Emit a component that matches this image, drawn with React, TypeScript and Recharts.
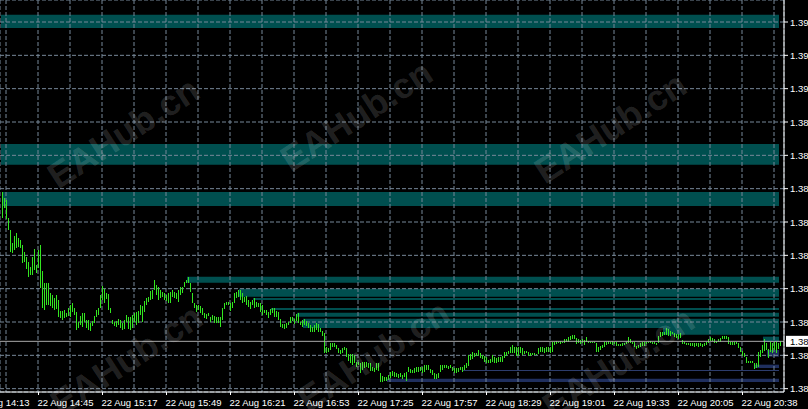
import React from "react";
import { ComposedChart, Bar, XAxis, YAxis, CartesianGrid, ReferenceArea, ReferenceLine } from "recharts";

// M1 bars, 22 Aug 14:27 onwards (high / low)
const highs = [
  1.38845, 1.38836, 1.38833, 1.38806, 1.38788, 1.38769, 1.38779, 1.38784, 1.38776, 1.38773,
  1.38766, 1.38755, 1.38748, 1.3874, 1.38733, 1.38748, 1.3876, 1.38736, 1.38758, 1.38766,
  1.38727, 1.38709, 1.38709, 1.38709, 1.38694, 1.38691, 1.38686, 1.38691, 1.38683, 1.38667,
  1.38667, 1.38668, 1.38664, 1.38671, 1.38676, 1.38679, 1.38671, 1.38665, 1.3865, 1.38659,
  1.38664, 1.38664, 1.38653, 1.38653, 1.38649, 1.38652, 1.38659, 1.38668, 1.38671, 1.38691,
  1.38704, 1.387, 1.38694, 1.38692, 1.38671, 1.38653, 1.3865, 1.38652, 1.38655, 1.38653,
  1.38649, 1.38653, 1.38661, 1.38658, 1.38658, 1.38661, 1.38664, 1.38665, 1.38667, 1.38676,
  1.38674, 1.38682, 1.38686, 1.38688, 1.38697, 1.38698, 1.38713, 1.38706, 1.38703, 1.38698,
  1.38695, 1.38694, 1.38691, 1.38694, 1.38695, 1.38698, 1.38695, 1.38694, 1.38698, 1.38703,
  1.38703, 1.3871, 1.38713, 1.38718, 1.38709, 1.38694, 1.38679, 1.38676, 1.38676, 1.38674,
  1.38671, 1.38664, 1.38662, 1.38664, 1.38658, 1.38661, 1.38659, 1.38658, 1.38658, 1.38658,
  1.38671, 1.38679, 1.3868, 1.3868, 1.38679, 1.3868, 1.38694, 1.38695, 1.38698, 1.38698,
  1.38694, 1.38688, 1.38689, 1.38683, 1.3868, 1.38683, 1.38686, 1.3868, 1.38679, 1.38679,
  1.38676, 1.38668, 1.38668, 1.38665, 1.3867, 1.38671, 1.38671, 1.38667, 1.38665, 1.38655,
  1.38647, 1.38647, 1.38649, 1.3865, 1.38658, 1.38658, 1.38655, 1.38662, 1.38664, 1.3865,
  1.38653, 1.38655, 1.38652, 1.38649, 1.38646, 1.38643, 1.38646, 1.38649, 1.38647, 1.38641,
  1.38637, 1.38634, 1.38613, 1.38611, 1.38619, 1.38619, 1.38619, 1.38616, 1.38611, 1.38608,
  1.38611, 1.38613, 1.38611, 1.38602, 1.38602, 1.38602, 1.38601, 1.3859, 1.3859, 1.38589,
  1.3859, 1.3859, 1.3859, 1.38589, 1.38589, 1.38583, 1.38581, 1.38589, 1.38589, 1.38574,
  1.38569, 1.38568, 1.38568, 1.38571, 1.38575, 1.38577, 1.38575, 1.38574, 1.38572, 1.38574,
  1.38571, 1.38574, 1.38575, 1.38583, 1.3858, 1.38578, 1.38581, 1.38583, 1.38583, 1.38583,
  1.38583, 1.38586, 1.38586, 1.38586, 1.3858, 1.38578, 1.38574, 1.38572, 1.38574, 1.38586,
  1.38586, 1.38586, 1.38586, 1.38584, 1.38586, 1.38583, 1.38581, 1.38581, 1.38581, 1.38583,
  1.38583, 1.38586, 1.38589, 1.38601, 1.38602, 1.38605, 1.38604, 1.38604, 1.38608, 1.38604,
  1.38601, 1.38599, 1.38598, 1.38593, 1.38595, 1.38601, 1.38598, 1.38596, 1.38598, 1.38598,
  1.38599, 1.38605, 1.38605, 1.38607, 1.38613, 1.38616, 1.38613, 1.38613, 1.38613, 1.38613,
  1.38611, 1.38607, 1.38607, 1.38605, 1.38604, 1.38604, 1.38604, 1.38602, 1.38611, 1.38613,
  1.38613, 1.38611, 1.38613, 1.38613, 1.38613, 1.3862, 1.3862, 1.38622, 1.3862, 1.38622,
  1.3862, 1.38625, 1.38625, 1.38628, 1.38629, 1.38631, 1.38631, 1.38626, 1.38625, 1.38623,
  1.38625, 1.38623, 1.38628, 1.38622, 1.3862, 1.3862, 1.3862, 1.38619, 1.38613, 1.38614,
  1.38616, 1.3862, 1.3862, 1.38622, 1.3862, 1.38622, 1.3862, 1.3862, 1.38617, 1.38617,
  1.38619, 1.38619, 1.3862, 1.38628, 1.38625, 1.3862, 1.3862, 1.38614, 1.38616, 1.38619,
  1.3862, 1.3862, 1.3862, 1.3862, 1.38622, 1.3862, 1.3862, 1.38619, 1.38629, 1.38635,
  1.38635, 1.38635, 1.38641, 1.3864, 1.38637, 1.38635, 1.38634, 1.38632, 1.38632, 1.38634,
  1.38623, 1.3862, 1.38619, 1.38619, 1.38619, 1.38619, 1.38619, 1.38619, 1.38619, 1.38619,
  1.38617, 1.38619, 1.3862, 1.38625, 1.38628, 1.38626, 1.38625, 1.38622, 1.38625, 1.38626,
  1.38629, 1.38629, 1.38629, 1.38628, 1.3862, 1.3862, 1.3862, 1.3862, 1.38619, 1.38613,
  1.38607, 1.38604, 1.38598, 1.38592, 1.38592, 1.38592, 1.38589, 1.38589, 1.38605, 1.38608,
  1.38616, 1.38625, 1.38619, 1.3861, 1.3862, 1.38619, 1.3862, 1.3862, 1.38619, 1.38622,
];
const lows = [
  1.38806, 1.38821, 1.38805, 1.38788, 1.38755, 1.38754, 1.38758, 1.38761, 1.38763, 1.38761,
  1.38739, 1.3874, 1.3873, 1.38718, 1.38721, 1.38721, 1.38728, 1.38724, 1.38731, 1.38701,
  1.38671, 1.38668, 1.38676, 1.38676, 1.38674, 1.38671, 1.38668, 1.3867, 1.38658, 1.38656,
  1.38653, 1.38656, 1.38658, 1.38659, 1.38658, 1.38665, 1.38661, 1.38638, 1.38641, 1.38646,
  1.38643, 1.3865, 1.38641, 1.38638, 1.38637, 1.38644, 1.38649, 1.38658, 1.38661, 1.38671,
  1.38683, 1.38679, 1.38685, 1.38668, 1.38664, 1.38647, 1.38644, 1.38643, 1.38646, 1.38641,
  1.38638, 1.3864, 1.3865, 1.3864, 1.38638, 1.38641, 1.3865, 1.38646, 1.38649, 1.38661,
  1.3865, 1.38665, 1.38676, 1.3868, 1.38683, 1.38685, 1.38698, 1.38691, 1.38683, 1.38686,
  1.38688, 1.38683, 1.38682, 1.38679, 1.38679, 1.38688, 1.38686, 1.38685, 1.3868, 1.38691,
  1.38694, 1.38703, 1.38709, 1.38709, 1.38695, 1.38679, 1.38671, 1.38665, 1.38668, 1.38664,
  1.38661, 1.38656, 1.38655, 1.38659, 1.3865, 1.38653, 1.38649, 1.38649, 1.38649, 1.38643,
  1.38653, 1.3867, 1.38676, 1.38676, 1.38667, 1.38671, 1.38679, 1.38686, 1.38688, 1.38683,
  1.38679, 1.3868, 1.38676, 1.38673, 1.3867, 1.38676, 1.38671, 1.38673, 1.38673, 1.38665,
  1.38661, 1.38664, 1.38661, 1.38656, 1.38661, 1.38664, 1.38658, 1.38658, 1.38653, 1.38643,
  1.38641, 1.3864, 1.38641, 1.38646, 1.38649, 1.38652, 1.38647, 1.38652, 1.38649, 1.38646,
  1.38643, 1.38646, 1.38644, 1.38641, 1.38635, 1.38635, 1.38635, 1.38638, 1.38635, 1.38635,
  1.38629, 1.38604, 1.38604, 1.38605, 1.38608, 1.38613, 1.38613, 1.3861, 1.38604, 1.38602,
  1.38604, 1.38608, 1.38598, 1.38592, 1.38589, 1.38586, 1.38589, 1.38583, 1.38586, 1.38574,
  1.38578, 1.38581, 1.38583, 1.38581, 1.38577, 1.38577, 1.38575, 1.38578, 1.38577, 1.3856,
  1.3856, 1.38562, 1.38562, 1.38563, 1.38566, 1.38569, 1.38568, 1.38568, 1.38566, 1.38568,
  1.38565, 1.38568, 1.38562, 1.38575, 1.38574, 1.38574, 1.38574, 1.38575, 1.38575, 1.38577,
  1.38574, 1.38575, 1.38578, 1.38578, 1.38574, 1.38571, 1.38565, 1.38565, 1.38566, 1.38575,
  1.38578, 1.38581, 1.38581, 1.3858, 1.38581, 1.38577, 1.38574, 1.38574, 1.38575, 1.38578,
  1.38575, 1.38578, 1.38581, 1.38584, 1.38593, 1.38595, 1.38598, 1.38599, 1.38599, 1.38596,
  1.38595, 1.3859, 1.38589, 1.38589, 1.38589, 1.3859, 1.38589, 1.38589, 1.3859, 1.3859,
  1.3859, 1.38596, 1.38599, 1.38602, 1.38604, 1.38604, 1.38604, 1.38599, 1.38599, 1.38604,
  1.38601, 1.38602, 1.38604, 1.38599, 1.38599, 1.38601, 1.38601, 1.38601, 1.38602, 1.38605,
  1.38605, 1.38604, 1.38605, 1.38605, 1.38604, 1.38605, 1.38616, 1.38617, 1.38619, 1.38617,
  1.38619, 1.38619, 1.3862, 1.3862, 1.38623, 1.38625, 1.38625, 1.38617, 1.38619, 1.38617,
  1.38619, 1.38616, 1.3862, 1.38619, 1.38619, 1.38619, 1.38619, 1.38605, 1.38605, 1.38608,
  1.38611, 1.38613, 1.38616, 1.38617, 1.38617, 1.38616, 1.38617, 1.38614, 1.38614, 1.38614,
  1.38614, 1.38616, 1.38617, 1.38619, 1.38619, 1.38617, 1.38613, 1.3861, 1.38611, 1.38613,
  1.38614, 1.38614, 1.38617, 1.38619, 1.38619, 1.38617, 1.38617, 1.38616, 1.38619, 1.38628,
  1.38629, 1.38631, 1.38631, 1.38629, 1.38629, 1.38632, 1.38628, 1.38626, 1.38625, 1.38626,
  1.38617, 1.38617, 1.38616, 1.38616, 1.38614, 1.38614, 1.38613, 1.38614, 1.38613, 1.38614,
  1.38613, 1.38614, 1.38616, 1.38619, 1.38622, 1.38622, 1.38619, 1.38619, 1.3862, 1.3862,
  1.38625, 1.38625, 1.38625, 1.38617, 1.38616, 1.38616, 1.38616, 1.38617, 1.38611, 1.38605,
  1.38599, 1.38598, 1.38589, 1.38589, 1.38589, 1.38589, 1.3858, 1.38581, 1.38583, 1.38598,
  1.38604, 1.38607, 1.38608, 1.38596, 1.38605, 1.38604, 1.38608, 1.38604, 1.3861, 1.38614,
];

const priceTicks = [1.391, 1.3905, 1.39, 1.3895, 1.389, 1.3885, 1.388, 1.3875, 1.387, 1.3865, 1.386, 1.3855];
const gridBars = [2, 18, 34, 50, 66, 82, 98, 114, 130, 146, 162, 178, 194, 210, 226, 242, 258, 274, 290, 306, 322, 338, 354, 370, 386];
const labelBars = [18, 50, 82, 114, 146, 178, 210, 242, 274, 306, 338, 370];
const timeLabels = [
  "22 Aug 14:13", "22 Aug 14:45", "22 Aug 15:17", "22 Aug 15:49", "22 Aug 16:21", "22 Aug 16:53", "22 Aug 17:25",
  "22 Aug 17:57", "22 Aug 18:29", "22 Aug 19:01", "22 Aug 19:33", "22 Aug 20:05", "22 Aug 20:38",
];
const lastPrice = 1.38621;

// drawn zones: first bar, low, high, kind
const zoneStart = [null, null, 1, 93, 119, 126, 135, 148, 151, 331, 381, 231, 193, 377, 383];
const zoneLow = [1.39091, 1.38886, 1.38824, 1.38709, 1.38688, 1.38683, 1.38668, 1.38658, 1.38641, 1.38631, 1.3862, 1.385765, 1.3856, 1.38581, 1.38598];
const zoneHigh = [1.39111, 1.38917, 1.38845, 1.38718, 1.387, 1.38686, 1.38671, 1.38664, 1.38655, 1.38643, 1.38628, 1.38578, 1.38565, 1.38586, 1.38608];
const zoneKind = ["s", "s", "s", "s", "s", "s", "s", "s", "s", "s", "s", "line", "d", "d", "d"];
const zoneColor: Record<string, string> = { s: "#004f4f", d: "#1f2f5e", line: "#2c3c6c" };

const data = highs.map((h, i) => ({ i, range: [lows[i], h] }));

const font = "'Liberation Sans', Arial, sans-serif";
const barColor = "#33e620";

const Stick = (p: any) => (
  <rect x={Math.round(p.x + p.width / 2 - 0.5)} y={Math.round(p.y)} width={1} height={Math.max(1, Math.round(Math.abs(p.height)))} fill={barColor} />
);

const PriceTick = ({ x, y, payload }: any) => (
  <text x={x} y={y} dy={3.5} fill="#fff" fontSize={9.5} fontFamily={font}>
    {Number(payload.value).toFixed(5)}
  </text>
);

const TimeTick = ({ x, y, payload }: any) => {
  const k = labelBars.indexOf(payload.value);
  if (k < 0) return null;
  const tx = Math.floor(x) + 0.5;
  return (
    <g>
      <line x1={tx} x2={tx} y1={y - 3} y2={y} stroke="#fff" />
      <text x={tx - 1} y={y + 11} fill="#fff" fontSize={9.5} fontFamily={font}>{timeLabels[k + 1]}</text>
      {k === 0 && (
        <text x={tx - 65} y={y + 11} fill="#fff" fontSize={9.5} fontFamily={font}>{timeLabels[0]}</text>
      )}
    </g>
  );
};

const PriceBox = ({ viewBox }: any) => (
  <g>
    <rect x={viewBox.x + viewBox.width + 2} y={viewBox.y - 5.5} width={30} height={11} fill="#fff" />
    <text x={viewBox.x + viewBox.width + 6} y={viewBox.y + 3.5} fill="#000" fontSize={9.5} fontFamily={font}>
      {lastPrice.toFixed(5)}
    </text>
  </g>
);

const stamps = [
  [125, 135], [358, 118], [612, 130], [128, 362], [375, 358], [620, 365],
];

export default function App() {
  const areaProps: any = { zIndex: -150 };
  return (
    <div style={{ position: "fixed", left: 0, top: 0, width: 808, height: 409, background: "#000", overflow: "hidden" }}>
      <ComposedChart width={808} height={409} data={data} margin={{ top: 0, right: 0, bottom: 0, left: 0 }}>
        {zoneLow.map((lo, k) => (
          <ReferenceArea
            key={k}
            {...areaProps}
            x1={zoneStart[k] ?? undefined}
            x2={388}
            y1={lo}
            y2={zoneHigh[k]}
            fill={zoneColor[zoneKind[k]]}
            fillOpacity={1}
            stroke="none"
            ifOverflow="visible"
          />
        ))}
        <CartesianGrid stroke="#778899" strokeDasharray="4 2" />
        <XAxis
          dataKey="i"
          type="category"
          ticks={gridBars}
          interval={0}
          padding={{ left: 1, right: 3 }}
          height={17}
          tickSize={3}
          tickMargin={0}
          tickLine={false}
          axisLine={{ stroke: "#fff" }}
          tick={<TimeTick />}
        />
        <YAxis
          orientation="right"
          type="number"
          domain={[1.38545, 1.39133]}
          allowDataOverflow
          ticks={priceTicks}
          interval={0}
          width={24}
          tickSize={4}
          tickMargin={2}
          axisLine={{ stroke: "#fff" }}
          tickLine={{ stroke: "#fff" }}
          tick={<PriceTick />}
        />
        <ReferenceLine y={lastPrice} stroke="#a9a9a9" ifOverflow="visible" label={<PriceBox />} />
        <Bar dataKey="range" barSize={1} shape={Stick} isAnimationActive={false} />
      </ComposedChart>
      <svg width={808} height={409} style={{ position: "absolute", left: 0, top: 0, pointerEvents: "none" }}>
        {stamps.map(([cx, cy], k) => (
          <text
            key={k}
            x={cx}
            y={cy}
            transform={`rotate(-33 ${cx} ${cy})`}
            textAnchor="middle"
            dominantBaseline="middle"
            fontFamily={font}
            fontWeight="bold"
            fontSize={36}
            fill="#ffffff"
            fillOpacity={0.15}
          >
            EAHub.cn
          </text>
        ))}
      </svg>
    </div>
  );
}
